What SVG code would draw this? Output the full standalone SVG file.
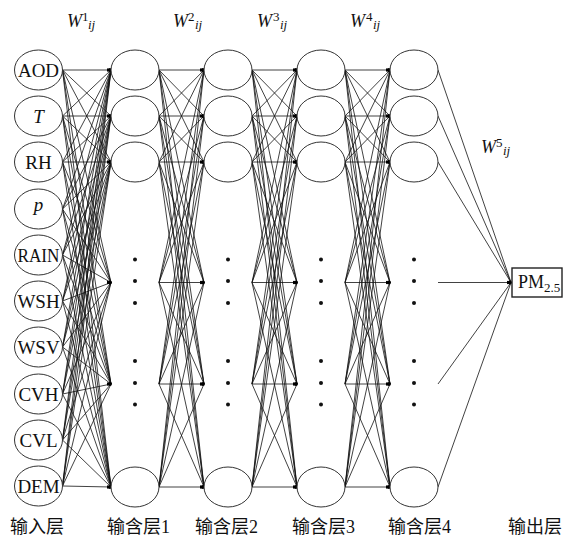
<svg xmlns="http://www.w3.org/2000/svg" xmlns:xlink="http://www.w3.org/1999/xlink" width="563" height="539" viewBox="0 0 563 539">
  <style>
    .node { fill: #fff; stroke: #333; stroke-width: 1; }
    .wire { fill: none; stroke: #111; stroke-width: 0.8; }
    .lbl { font-family: 'Liberation Serif', 'DejaVu Serif', serif; font-size: 19px; fill: #111; text-anchor: middle; }
    .it { font-style: italic; }
    .w { font-family: 'Liberation Serif', 'DejaVu Serif', serif; font-size: 18px; fill: #111; }
    .sup { font-size: 13px; font-style: normal; }
    .sub { font-size: 13px; font-style: italic; }
    .cap { font-family: 'Liberation Serif', 'Noto Sans CJK SC', serif; font-size: 18px; fill: #111; }
    .dot { fill: #111; }
  </style>
  <defs>
    <g id="tip" fill="#000">
      <circle cx="-1.2" cy="0" r="2.1"/>
      <path d="M-4 -1.8L1 0L-4 1.8Z"/>
    </g>
    <g id="ellipsis" class="dot">
      <circle cy="259.5" r="2"/><circle cy="281" r="2"/><circle cy="303" r="2"/>
      <circle cy="361" r="2"/><circle cy="383" r="2"/><circle cy="404.5" r="2"/>
    </g>
  </defs>
  <rect width="563" height="539" fill="#fff"/>

  <!-- connectors -->
  <g id="connectors" class="wire">
    <!-- input layer to hidden layer 1 -->
    <path d="M62.5 70L111 70M62.5 70L111 116M62.5 70L111 162M62.5 70L111 282.5M62.5 70L111 384M62.5 70L111 487"/>
    <path d="M62.5 116L111 70M62.5 116L111 116M62.5 116L111 162M62.5 116L111 282.5M62.5 116L111 384M62.5 116L111 487"/>
    <path d="M62.5 162L111 70M62.5 162L111 116M62.5 162L111 162M62.5 162L111 282.5M62.5 162L111 384M62.5 162L111 487"/>
    <path d="M62.5 209L111 70M62.5 209L111 116M62.5 209L111 162M62.5 209L111 282.5M62.5 209L111 384M62.5 209L111 487"/>
    <path d="M62.5 255L111 70M62.5 255L111 116M62.5 255L111 162M62.5 255L111 282.5M62.5 255L111 384M62.5 255L111 487"/>
    <path d="M62.5 301L111 70M62.5 301L111 116M62.5 301L111 162M62.5 301L111 282.5M62.5 301L111 384M62.5 301L111 487"/>
    <path d="M62.5 347L111 70M62.5 347L111 116M62.5 347L111 162M62.5 347L111 282.5M62.5 347L111 384M62.5 347L111 487"/>
    <path d="M62.5 394L111 70M62.5 394L111 116M62.5 394L111 162M62.5 394L111 282.5M62.5 394L111 384M62.5 394L111 487"/>
    <path d="M62.5 440L111 70M62.5 440L111 116M62.5 440L111 162M62.5 440L111 282.5M62.5 440L111 384M62.5 440L111 487"/>
    <path d="M62.5 486L111 70M62.5 486L111 116M62.5 486L111 162M62.5 486L111 282.5M62.5 486L111 384M62.5 486L111 487"/>
    <!-- hidden layer 1 to hidden layer 2 -->
    <path d="M159 70L204 70M159 70L204 116M159 70L204 162M159 70L204 282.5M159 70L204 384M159 70L204 487"/>
    <path d="M159 116L204 70M159 116L204 116M159 116L204 162M159 116L204 282.5M159 116L204 384M159 116L204 487"/>
    <path d="M159 162L204 70M159 162L204 116M159 162L204 162M159 162L204 282.5M159 162L204 384M159 162L204 487"/>
    <path d="M159 282.5L204 70M159 282.5L204 116M159 282.5L204 162M159 282.5L204 282.5M159 282.5L204 384M159 282.5L204 487"/>
    <path d="M159 384L204 70M159 384L204 116M159 384L204 162M159 384L204 282.5M159 384L204 384M159 384L204 487"/>
    <path d="M159 487L204 70M159 487L204 116M159 487L204 162M159 487L204 282.5M159 487L204 384M159 487L204 487"/>
    <!-- hidden layer 2 to hidden layer 3 -->
    <path d="M252 70L297 70M252 70L297 116M252 70L297 162M252 70L297 282.5M252 70L297 384M252 70L297 487"/>
    <path d="M252 116L297 70M252 116L297 116M252 116L297 162M252 116L297 282.5M252 116L297 384M252 116L297 487"/>
    <path d="M252 162L297 70M252 162L297 116M252 162L297 162M252 162L297 282.5M252 162L297 384M252 162L297 487"/>
    <path d="M252 282.5L297 70M252 282.5L297 116M252 282.5L297 162M252 282.5L297 282.5M252 282.5L297 384M252 282.5L297 487"/>
    <path d="M252 384L297 70M252 384L297 116M252 384L297 162M252 384L297 282.5M252 384L297 384M252 384L297 487"/>
    <path d="M252 487L297 70M252 487L297 116M252 487L297 162M252 487L297 282.5M252 487L297 384M252 487L297 487"/>
    <!-- hidden layer 3 to hidden layer 4 -->
    <path d="M345 70L390 70M345 70L390 116M345 70L390 162M345 70L390 282.5M345 70L390 384M345 70L390 487"/>
    <path d="M345 116L390 70M345 116L390 116M345 116L390 162M345 116L390 282.5M345 116L390 384M345 116L390 487"/>
    <path d="M345 162L390 70M345 162L390 116M345 162L390 162M345 162L390 282.5M345 162L390 384M345 162L390 487"/>
    <path d="M345 282.5L390 70M345 282.5L390 116M345 282.5L390 162M345 282.5L390 282.5M345 282.5L390 384M345 282.5L390 487"/>
    <path d="M345 384L390 70M345 384L390 116M345 384L390 162M345 384L390 282.5M345 384L390 384M345 384L390 487"/>
    <path d="M345 487L390 70M345 487L390 116M345 487L390 162M345 487L390 282.5M345 487L390 384M345 487L390 487"/>
    <!-- hidden layer 4 to output -->
    <path d="M438 70L511 282.5M438 116L511 282.5M438 162L511 282.5M438 282.5L511 282.5M438 384L511 282.5M438 487L511 282.5"/>
  </g>

  <!-- arrow tips where the connectors meet -->
  <g id="tips">
    <use xlink:href="#tip" x="111" y="70"/><use xlink:href="#tip" x="111" y="116"/><use xlink:href="#tip" x="111" y="162"/>
    <use xlink:href="#tip" x="111" y="282.5"/><use xlink:href="#tip" x="111" y="384"/><use xlink:href="#tip" x="111" y="487"/>
    <use xlink:href="#tip" x="204" y="70"/><use xlink:href="#tip" x="204" y="116"/><use xlink:href="#tip" x="204" y="162"/>
    <use xlink:href="#tip" x="204" y="282.5"/><use xlink:href="#tip" x="204" y="384"/><use xlink:href="#tip" x="204" y="487"/>
    <use xlink:href="#tip" x="297" y="70"/><use xlink:href="#tip" x="297" y="116"/><use xlink:href="#tip" x="297" y="162"/>
    <use xlink:href="#tip" x="297" y="282.5"/><use xlink:href="#tip" x="297" y="384"/><use xlink:href="#tip" x="297" y="487"/>
    <use xlink:href="#tip" x="390" y="70"/><use xlink:href="#tip" x="390" y="116"/><use xlink:href="#tip" x="390" y="162"/>
    <use xlink:href="#tip" x="390" y="282.5"/><use xlink:href="#tip" x="390" y="384"/><use xlink:href="#tip" x="390" y="487"/>
    <use xlink:href="#tip" x="511" y="282.5"/>
  </g>

  <!-- input layer -->
  <g id="in-aod"><ellipse class="node" cx="38.5" cy="70" rx="24" ry="20"/><text class="lbl" x="38.5" y="76.5">AOD</text></g>
  <g id="in-t"><ellipse class="node" cx="38.5" cy="116" rx="24" ry="20"/><text class="lbl it" x="38.5" y="122.5">T</text></g>
  <g id="in-rh"><ellipse class="node" cx="38.5" cy="162" rx="24" ry="20"/><text class="lbl" x="38.5" y="168.5">RH</text></g>
  <g id="in-p"><ellipse class="node" cx="38.5" cy="209" rx="24" ry="20"/><text class="lbl it" x="38.5" y="211">p</text></g>
  <g id="in-rain"><ellipse class="node" cx="38.5" cy="255" rx="24" ry="20"/><text class="lbl" x="38.5" y="261.5" textLength="42" lengthAdjust="spacingAndGlyphs">RAIN</text></g>
  <g id="in-wsh"><ellipse class="node" cx="38.5" cy="301" rx="24" ry="20"/><text class="lbl" x="38.5" y="307.5">WSH</text></g>
  <g id="in-wsv"><ellipse class="node" cx="38.5" cy="347" rx="24" ry="20"/><text class="lbl" x="38.5" y="353.5">WSV</text></g>
  <g id="in-cvh"><ellipse class="node" cx="38.5" cy="394" rx="24" ry="20"/><text class="lbl" x="38.5" y="400.5">CVH</text></g>
  <g id="in-cvl"><ellipse class="node" cx="38.5" cy="440" rx="24" ry="20"/><text class="lbl" x="38.5" y="446.5">CVL</text></g>
  <g id="in-dem"><ellipse class="node" cx="38.5" cy="486" rx="24" ry="20"/><text class="lbl" x="38.5" y="492.5">DEM</text></g>

  <!-- hidden layer 1 -->
  <g id="h1-1"><ellipse class="node" cx="135" cy="70" rx="24" ry="20"/></g>
  <g id="h1-2"><ellipse class="node" cx="135" cy="116" rx="24" ry="20"/></g>
  <g id="h1-3"><ellipse class="node" cx="135" cy="162" rx="24" ry="20"/></g>
  <g id="h1-n"><ellipse class="node" cx="135" cy="487" rx="24" ry="20"/></g>
  <use id="h1-dots" xlink:href="#ellipsis" x="135"/>

  <!-- hidden layer 2 -->
  <g id="h2-1"><ellipse class="node" cx="228" cy="70" rx="24" ry="20"/></g>
  <g id="h2-2"><ellipse class="node" cx="228" cy="116" rx="24" ry="20"/></g>
  <g id="h2-3"><ellipse class="node" cx="228" cy="162" rx="24" ry="20"/></g>
  <g id="h2-n"><ellipse class="node" cx="228" cy="487" rx="24" ry="20"/></g>
  <use id="h2-dots" xlink:href="#ellipsis" x="228"/>

  <!-- hidden layer 3 -->
  <g id="h3-1"><ellipse class="node" cx="321" cy="70" rx="24" ry="20"/></g>
  <g id="h3-2"><ellipse class="node" cx="321" cy="116" rx="24" ry="20"/></g>
  <g id="h3-3"><ellipse class="node" cx="321" cy="162" rx="24" ry="20"/></g>
  <g id="h3-n"><ellipse class="node" cx="321" cy="487" rx="24" ry="20"/></g>
  <use id="h3-dots" xlink:href="#ellipsis" x="321"/>

  <!-- hidden layer 4 -->
  <g id="h4-1"><ellipse class="node" cx="414" cy="70" rx="24" ry="20"/></g>
  <g id="h4-2"><ellipse class="node" cx="414" cy="116" rx="24" ry="20"/></g>
  <g id="h4-3"><ellipse class="node" cx="414" cy="162" rx="24" ry="20"/></g>
  <g id="h4-n"><ellipse class="node" cx="414" cy="487" rx="24" ry="20"/></g>
  <use id="h4-dots" xlink:href="#ellipsis" x="414"/>

  <!-- output node -->
  <g id="out-pm25">
    <rect x="512" y="268" width="50" height="29" fill="#fff" stroke="#222" stroke-width="1.4"/>
    <text class="w" x="518" y="288">PM<tspan font-size="13" dy="4">2.5</tspan></text>
  </g>

  <!-- weight labels -->
  <g id="weights" class="w">
    <text x="67" y="27" class="it">W<tspan class="sup" x="82" y="20.5">1</tspan><tspan class="sub" x="88" y="29">ij</tspan></text>
    <text x="173" y="27" class="it">W<tspan class="sup" x="188" y="20.5">2</tspan><tspan class="sub" x="195" y="29">ij</tspan></text>
    <text x="257" y="27" class="it">W<tspan class="sup" x="273" y="20.5">3</tspan><tspan class="sub" x="280" y="29">ij</tspan></text>
    <text x="350" y="27" class="it">W<tspan class="sup" x="366" y="20.5">4</tspan><tspan class="sub" x="373" y="29">ij</tspan></text>
    <text x="481" y="153" class="it">W<tspan class="sup" x="496" y="146.5">5</tspan><tspan class="sub" x="503" y="155">ij</tspan></text>
  </g>

  <!-- layer captions -->
  <g id="captions" class="cap">
    <text x="10" y="533">输入层</text>
    <text x="107" y="533">输含层1</text>
    <text x="195" y="533">输含层2</text>
    <text x="292" y="533">输含层3</text>
    <text x="388" y="533">输含层4</text>
    <text x="508" y="533">输出层</text>
  </g>
</svg>
